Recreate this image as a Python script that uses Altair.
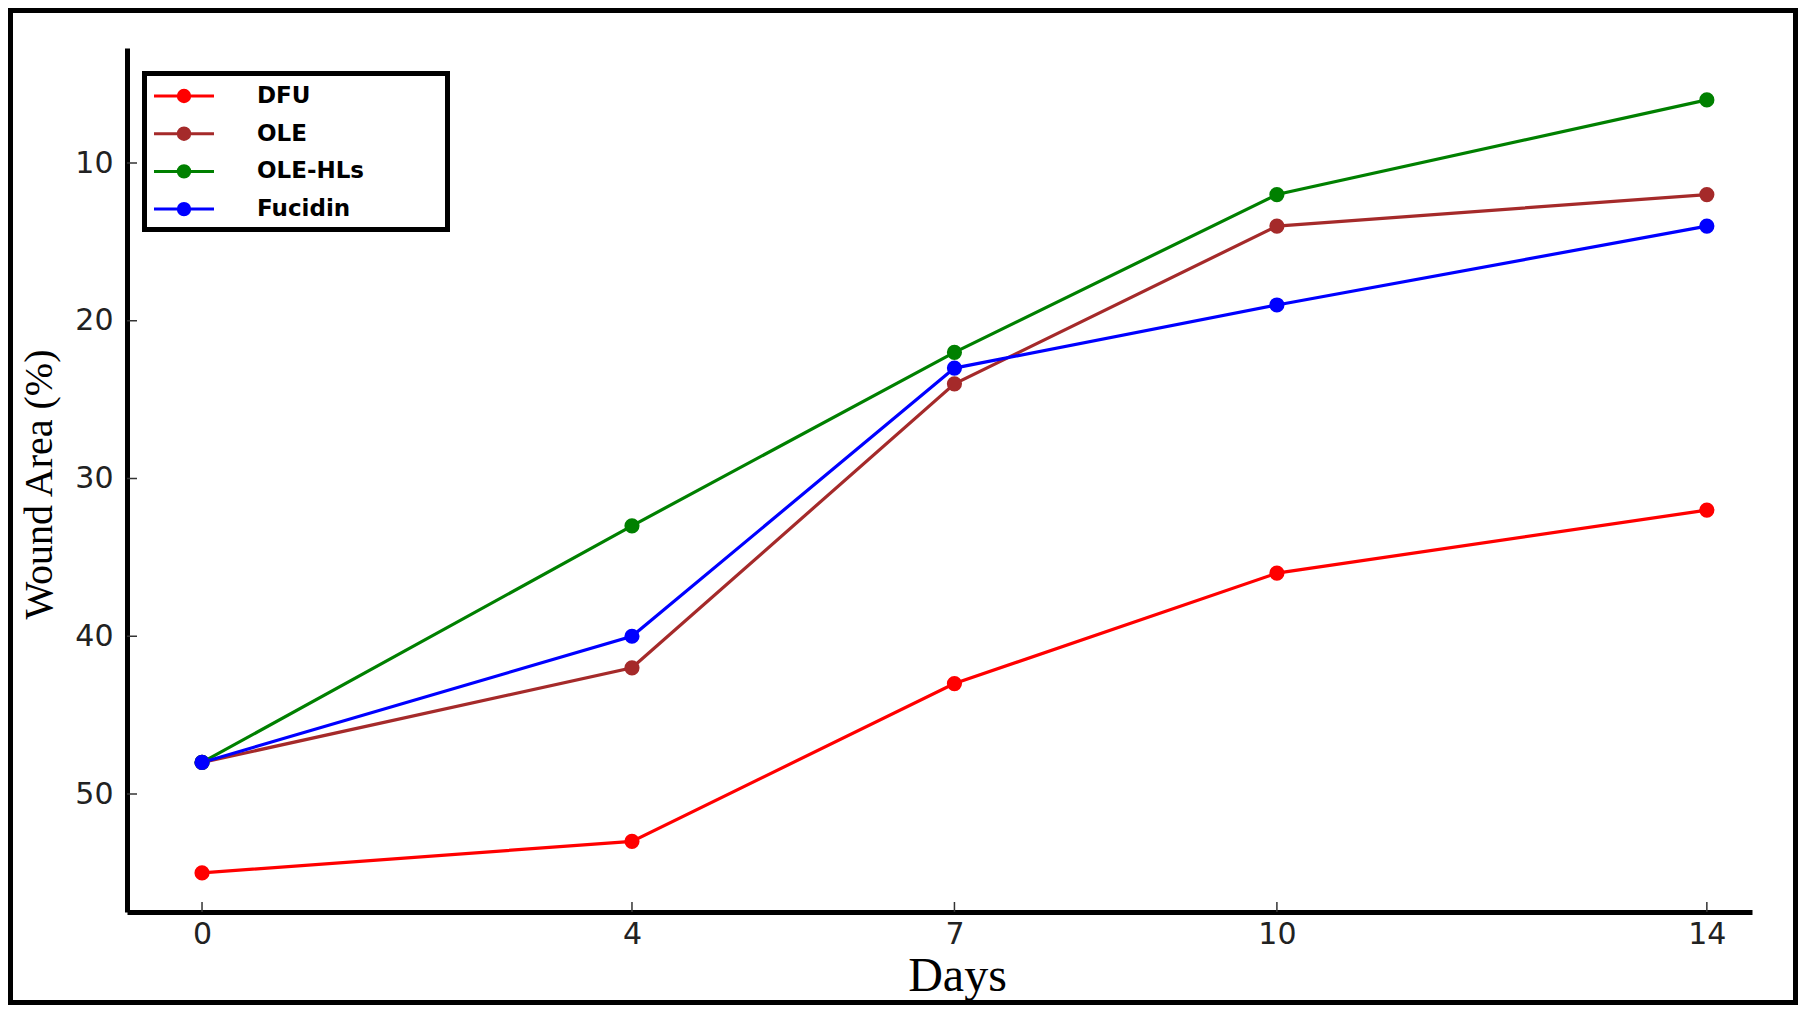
import altair as alt
import pandas as pd

# ---- data ----
days = [0, 4, 7, 10, 14]
series_names = ["DFU", "OLE", "OLE-HLs", "Fucidin"]
dfu = [55, 53, 43, 36, 32]
ole = [48, 42, 24, 14, 12]
ole_hls = [48, 33, 22, 12, 6]
fucidin = [48, 40, 23, 19, 14]
colors = ["#ff0000", "#a52a2a", "#008000", "#0000ff"]
x_ticks = [0, 4, 7, 10, 14]
y_ticks = [10, 20, 30, 40, 50]

rows = []
for name, vals in zip(series_names, [dfu, ole, ole_hls, fucidin]):
    for d, v in zip(days, vals):
        rows.append({"Days": d, "Wound": v, "Group": name})
df = pd.DataFrame(rows)

W, H = 1625, 864
PAD = {"left": 119, "top": 40, "right": 46, "bottom": 93}

xscale = alt.Scale(domain=[-0.698, 14.42], nice=False, zero=False)
yscale = alt.Scale(domain=[2.71, 57.48], reverse=True, nice=False, zero=False)

x_axis = alt.Axis(
    values=x_ticks, title="Days", titleFont="Liberation Serif",
    titleFontSize=48, titleFontWeight="normal", titleColor="black",
    titleX=830, titleY=78, titleBaseline="alphabetic", titleAlign="center",
    labelFont="DejaVu Sans", labelFontSize=30, labelColor="#222",
    labelPadding=7, ticks=False, tickSize=0, domainColor="black",
    domainWidth=5, grid=False, labelFlush=False)
y_axis = alt.Axis(
    values=y_ticks, title="Wound Area (%)", titleFont="Liberation Serif",
    titleFontSize=40, titleFontWeight="normal", titleColor="black",
    titleX=-76, titleY=436, titleAngle=270, titleBaseline="alphabetic",
    titleAlign="center",
    labelFont="DejaVu Sans", labelFontSize=30, labelColor="#222",
    labelPadding=14, ticks=False, tickSize=0, domainColor="black",
    domainWidth=5, grid=False, labelFlush=False)

# legend symbol: line segment with a filled dot (concentric rings)
sym = ("M-1,0L5,0"
       "M1.85,0A0.15,0.15,0,1,1,2.15,0A0.15,0.15,0,1,1,1.85,0"
       "M1.6,0A0.4,0.4,0,1,1,2.4,0A0.4,0.4,0,1,1,1.6,0"
       "M1.43,0A0.57,0.57,0,1,1,2.57,0A0.57,0.57,0,1,1,1.43,0")

lines = alt.Chart(df).mark_line(
    strokeWidth=3.2,
    point=alt.OverlayMarkDef(filled=True, size=230, opacity=1),
).encode(
    x=alt.X("Days:Q", scale=xscale, axis=x_axis),
    y=alt.Y("Wound:Q", scale=yscale, axis=y_axis),
    color=alt.Color("Group:N", sort=series_names,
                    scale=alt.Scale(domain=series_names, range=colors),
                    legend=alt.Legend(
                        title=None, orient="none", legendX=17.5, legendY=28.5,
                        symbolType=sym, symbolSize=400, symbolStrokeWidth=3,
                        labelFont="DejaVu Sans", labelFontSize=23,
                        labelFontWeight="bold", labelColor="black",
                        labelOffset=81.5, rowPadding=12.7, padding=8,
                        strokeColor="transparent", fillColor="transparent")),
)

tick_df = pd.DataFrame({"Days": x_ticks})
ytick_df = pd.DataFrame({"Wound": y_ticks})

xt = alt.Chart(tick_df).mark_rule(color="#333", strokeWidth=1.5).encode(
    x=alt.X("Days:Q", scale=xscale, axis=x_axis),
    y=alt.value(H), y2=alt.value(H - 10))
yt = alt.Chart(ytick_df).mark_rule(color="#333", strokeWidth=1.5).encode(
    y=alt.Y("Wound:Q", scale=yscale, axis=y_axis),
    x=alt.value(0), x2=alt.value(10))

one = pd.DataFrame({"a": [0]})
frame = alt.Chart(one).mark_rect(
    fillOpacity=0, stroke="black", strokeWidth=5).encode(
    x=alt.value(-PAD["left"] + 2.5), x2=alt.value(W + PAD["right"] - 2.5),
    y=alt.value(-PAD["top"] + 2.5), y2=alt.value(H + PAD["bottom"] - 2.5))

legend_box = alt.Chart(one).mark_rect(
    fill="white", stroke="black", strokeWidth=5).encode(
    x=alt.value(17.5), x2=alt.value(320.5),
    y=alt.value(25.5), y2=alt.value(181.5))

chart = alt.layer(frame, legend_box, xt, yt, lines).properties(
    width=W, height=H, padding=PAD, autosize="none", background="white"
).configure_view(stroke=None)

chart.save("out.html", embed_options={"renderer": "svg", "actions": False})
